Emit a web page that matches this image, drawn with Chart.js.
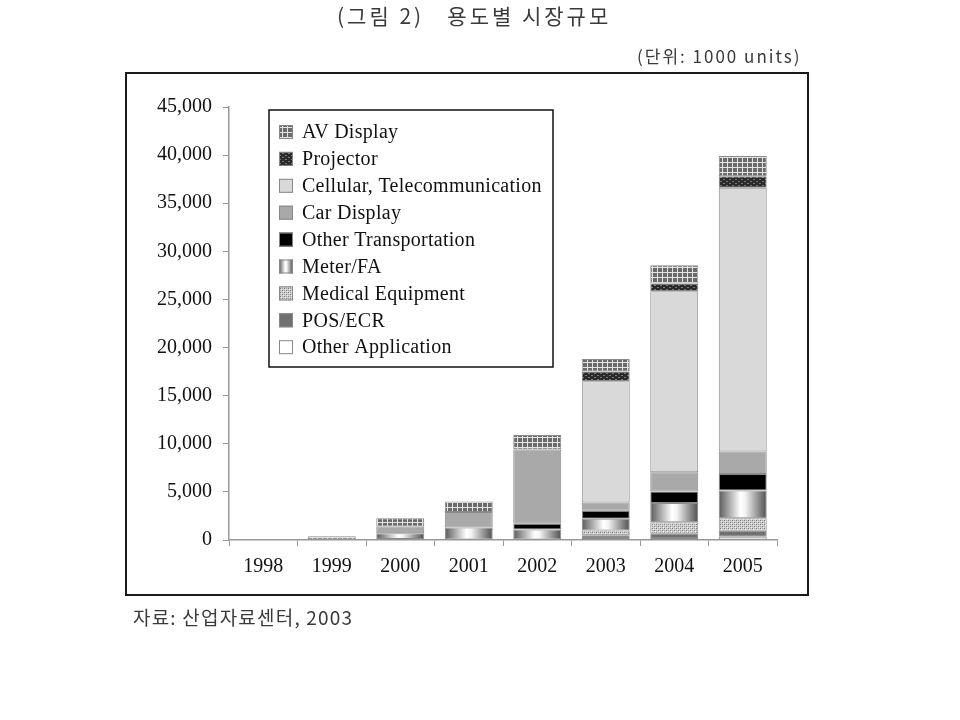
<!DOCTYPE html>
<html>
<head>
<meta charset="utf-8">
<script src="https://cdn.jsdelivr.net/npm/chart.js@4.4.0/dist/chart.umd.min.js"></script>
<style>
  html, body { margin: 0; background: #fff; }
  #wrap { width: 960px; height: 720px; }
</style>
</head>
<body>
<div id="wrap"><canvas id="c" width="960" height="720"></canvas></div>
<script>
// 단위: 1000 units
const years = ['1998', '1999', '2000', '2001', '2002', '2003', '2004', '2005'];
const otherApp   = [0,   0,  100,    0,    0,   200,   200,   350];
const posEcr     = [0,   0,    0,    0,    0,   300,   450,   600];
const medical    = [0,   0,    0,    0,    0,   500,  1200,  1300];
const meterFa    = [0,   0,  600, 1300, 1100,  1200,  2000,  2900];
const otherTrans = [0,   0,    0,    0,  600,   850,  1200,  1700];
const carDisplay = [0,   0,  700, 1600, 7700,   850,  2000,  2350];
const cellular   = [0,   0,    0,    0,    0, 12600, 18800, 27400];
const projector  = [0,   0,    0,    0,    0,  1000,   800,  1200];
const avDisplay  = [0, 400,  850, 1100, 1500,  1300,  1900,  2100];
const yTicks = [0, 45000, 5000]; // min, max, step

const canvas = document.getElementById('c');
const ctx = canvas.getContext('2d');

function tile(w, h, draw) {
    const t = document.createElement('canvas');
    t.width = w; t.height = h;
    draw(t.getContext('2d'));
    return ctx.createPattern(t, 'repeat');
}

const avPattern = tile(5, 5, g => {
    g.fillStyle = '#6a6a6a'; g.fillRect(0, 0, 5, 5);
    g.fillStyle = '#e4e4e4'; g.fillRect(2, 0, 1, 5); g.fillRect(0, 2, 5, 1);
});
const projPattern = tile(6, 4, g => {
    g.fillStyle = '#2a2a2a'; g.fillRect(0, 0, 6, 4);
    g.fillStyle = '#7a7a7a'; g.fillRect(0, 1, 2, 1); g.fillRect(3, 3, 2, 1);
});
const medPattern = tile(4, 4, g => {
    g.fillStyle = '#cfcfcf'; g.fillRect(0, 0, 4, 4);
    g.fillStyle = '#7a7a7a'; g.fillRect(0, 0, 1, 1); g.fillRect(2, 2, 1, 1);
    g.fillStyle = '#a0a0a0'; g.fillRect(2, 0, 1, 1); g.fillRect(0, 2, 1, 1);
    g.fillStyle = '#f0f0f0'; g.fillRect(1, 1, 1, 1); g.fillRect(3, 3, 1, 1);
});

function meterGradient(x0, x1) {
    const g = ctx.createLinearGradient(x0, 0, x1, 0);
    g.addColorStop(0, '#5a5a5a');
    g.addColorStop(0.45, '#ffffff');
    g.addColorStop(0.55, '#f4f4f4');
    g.addColorStop(1, '#4e4e4e');
    return g;
}

function meterFill(c) {
    const chart = c.chart, x = chart.scales.x;
    if (!chart.chartArea || !x) return '#bbbbbb';
    const cx = x.getPixelForValue(c.dataIndex);
    const half = x.width / years.length * 0.7 / 2;
    return meterGradient(cx - half, cx + half);
}

const series = [
    { label: 'Other Application',           data: otherApp,   backgroundColor: '#ffffff' },
    { label: 'POS/ECR',                     data: posEcr,     backgroundColor: '#707070' },
    { label: 'Medical Equipment',           data: medical,    backgroundColor: medPattern },
    { label: 'Meter/FA',                    data: meterFa,    backgroundColor: meterFill },
    { label: 'Other Transportation',        data: otherTrans, backgroundColor: '#000000' },
    { label: 'Car Display',                 data: carDisplay, backgroundColor: '#a9a9a9' },
    { label: 'Cellular, Telecommunication', data: cellular,   backgroundColor: '#d9d9d9' },
    { label: 'Projector',                   data: projector,  backgroundColor: projPattern },
    { label: 'AV Display',                  data: avDisplay,  backgroundColor: avPattern }
];

// 범례 + 바깥 테두리 + 제목/출처
const decor = {
    id: 'decor',
    beforeDraw(chart) {
        const g = chart.ctx;
        g.save();
        g.fillStyle = '#fff';
        g.fillRect(0, 0, chart.width, chart.height);
        g.restore();
    },
    afterDraw(chart) {
        const g = chart.ctx;
        g.save();
        g.strokeStyle = '#1a1a1a';
        g.lineWidth = 2;
        g.strokeRect(126, 73, 682, 522);

        g.fillStyle = '#3a3a3a';
        g.textBaseline = 'middle';
        g.font = "21px 'Noto Sans CJK KR'";
        g.textAlign = 'left';
        g.letterSpacing = '3px';
        g.fillText('(그림 2)   용도별 시장규모', 337, 16);
        g.font = "17px 'Noto Sans CJK KR'";
        g.letterSpacing = '2px';
        g.fillText('(단위: 1000 units)', 637, 57);
        g.font = "19px 'Noto Sans CJK KR'";
        g.letterSpacing = '1.2px';
        g.fillText('자료: 산업자료센터, 2003', 133, 618);

        // legend
        const lx = 269, ly = 110, lw = 284, lh = 257, step = 26.9;
        g.letterSpacing = '0.28px';
        g.lineWidth = 1.5;
        g.strokeStyle = '#111';
        g.strokeRect(lx, ly, lw, lh);
        g.font = "20px 'Liberation Serif'";
        const items = chart.data.datasets.slice().reverse();
        items.forEach((ds, i) => {
            const cy = 132 + i * step;
            const sx = 279, sw = 14;
            g.fillStyle = typeof ds.backgroundColor === 'function'
                ? meterGradient(sx, sx + sw) : ds.backgroundColor;
            g.fillRect(sx, cy - 7, sw, sw);
            g.lineWidth = 1;
            g.strokeStyle = '#888';
            g.strokeRect(sx + 0.5, cy - 6.5, sw - 1, sw - 1);
            g.fillStyle = '#111';
            g.fillText(ds.label, 302, cy + 1);
        });
        g.restore();
    }
};

Chart.defaults.font.family = "'Liberation Serif', serif";
Chart.defaults.color = '#111';

new Chart(ctx, {
    type: 'bar',
    data: {
        labels: years,
        datasets: series.map(s => ({
            label: s.label,
            data: s.data,
            backgroundColor: s.backgroundColor,
            borderColor: '#8a8a8a',
            borderWidth: 1,
            borderSkipped: false,
            categoryPercentage: 0.7,
            barPercentage: 1
        }))
    },
    options: {
        responsive: false,
        animation: false,
        locale: 'en-US',
        layout: { padding: { left: 125, right: 183, top: 107, bottom: 130 } },
        plugins: {
            legend: { display: false },
            tooltip: { enabled: false }
        },
        scales: {
            x: {
                stacked: true,
                afterFit(s) { s.height = 50; },
                grid: { drawOnChartArea: false, drawTicks: true, tickLength: 6, color: '#999', offset: true },
                border: { color: '#999', width: 1.5 },
                ticks: { font: { size: 20 }, padding: 9, color: '#111' }
            },
            y: {
                stacked: true,
                min: yTicks[0],
                max: yTicks[1],
                afterFit(s) { s.width = 104; },
                grid: { drawOnChartArea: false, drawTicks: true, tickLength: 6, color: '#999' },
                border: { color: '#999', width: 1.5 },
                ticks: { stepSize: yTicks[2], font: { size: 20 }, padding: 11, color: '#111' }
            }
        }
    },
    plugins: [decor]
});
</script>
</body>
</html>
